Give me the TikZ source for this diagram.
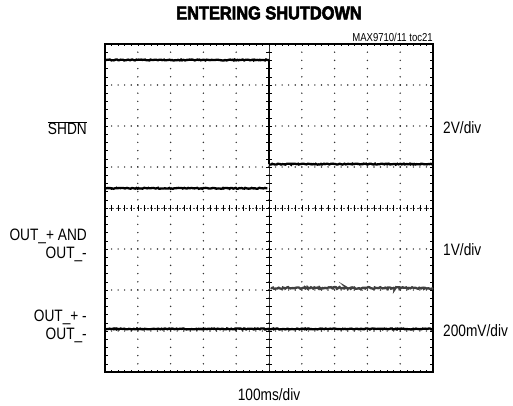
\documentclass[tikz,border=0pt]{standalone}
\usepackage{fontspec}
\setmainfont[FakeStretch=0.83]{Liberation Sans}
\newfontfamily\titlefont[FakeStretch=0.88,FakeBold=3]{Liberation Sans}
\usetikzlibrary{decorations.pathmorphing}
\tikzset{
  scopelabel/.style={font=\fontsize{16.5}{18}\selectfont, inner sep=0pt},
  sigtrace/.style={line width=2.3pt, decorate, decoration={random steps, segment length=1.2pt, amplitude=0.5pt}},
  griddot/.style={fill=black!80},
}
\begin{document}
\begin{tikzpicture}[x=1pt,y=1pt]
        \useasboundingbox (0,0) rectangle (513,406);
        \node[font=\titlefont\bfseries\fontsize{18.6}{20}\selectfont, inner sep=0pt] (title) at (269,393) {ENTERING SHUTDOWN};
        \node[font=\fontsize{11.5}{13}\selectfont, inner sep=0pt, anchor=east] (figid) at (433,369) {MAX9710/11 toc21};
        \begin{scope}[shift={(105,34)}, x=32.8pt, y=41pt]
                % dotted graticule
                \foreach \i in {1,...,9}
                        \foreach \t in {0,1,...,40}
                                \fill[griddot] (\i,\t/5) circle (0.8pt);
                \foreach \j in {1,...,7}
                        \foreach \t in {0,1,...,50}
                                \fill[griddot] (\t/5,\j) circle (0.8pt);
                % centre axes
                \draw[thin, black!70, dash pattern=on 2pt off 1.5pt] (0,4) -- (10,4);
                \draw[thin, black!80] (5,0) -- (5,8);
                \foreach \t in {0,1,...,50} \draw[thin] (\t/5,3.93) -- (\t/5,4.07);
                \foreach \t in {0,1,...,40} \draw[thin] (4.91,\t/5) -- (5.09,\t/5);
                % frame with minor ticks
                \foreach \t in {1,...,49} {\draw (\t/5,0) -- ++(0,0.06); \draw (\t/5,8) -- ++(0,-0.06);}
                \foreach \t in {1,...,39} {\draw (0,\t/5) -- ++(0.08,0); \draw (10,\t/5) -- ++(-0.08,0);}
                \draw[line width=2.5pt] (0,0) rectangle (10,8);
                % traces
                \draw[sigtrace] (0,7.61) -- (5,7.61);
                \draw[line width=1.2pt] (5,7.61) -- (5,5.07);
                \draw[sigtrace] (5,5.07) -- (10,5.07);
                \draw[sigtrace] (0,4.48) -- (4.95,4.48);
                \draw[line width=0.8pt] (5,4.48) -- (5,2.05);
                \draw[sigtrace, black!75, decoration={amplitude=0.9pt}] (5.05,2.05) -- (10,2.05);
                \draw[sigtrace] (0,1.05) -- (10,1.05);
        \end{scope}
        \node[scopelabel, anchor=east] (shdn) at (87,278) {$\overline{\hbox{SHDN}}$};
        \node[scopelabel, anchor=east, align=right] (outsum) at (87,161) {OUT\_+ AND\\OUT\_-};
        \node[scopelabel, anchor=east, align=right] (outdiff) at (87,79.5) {OUT\_+ -\\OUT\_-};
        \node[scopelabel, anchor=west] (scalea) at (443,278) {2V/div};
        \node[scopelabel, anchor=west] (scaleb) at (443,156) {1V/div};
        \node[scopelabel, anchor=west] (scalec) at (443,75) {200mV/div};
        \node[scopelabel] (timebase) at (269,11) {100ms/div};
\end{tikzpicture}
\end{document}
